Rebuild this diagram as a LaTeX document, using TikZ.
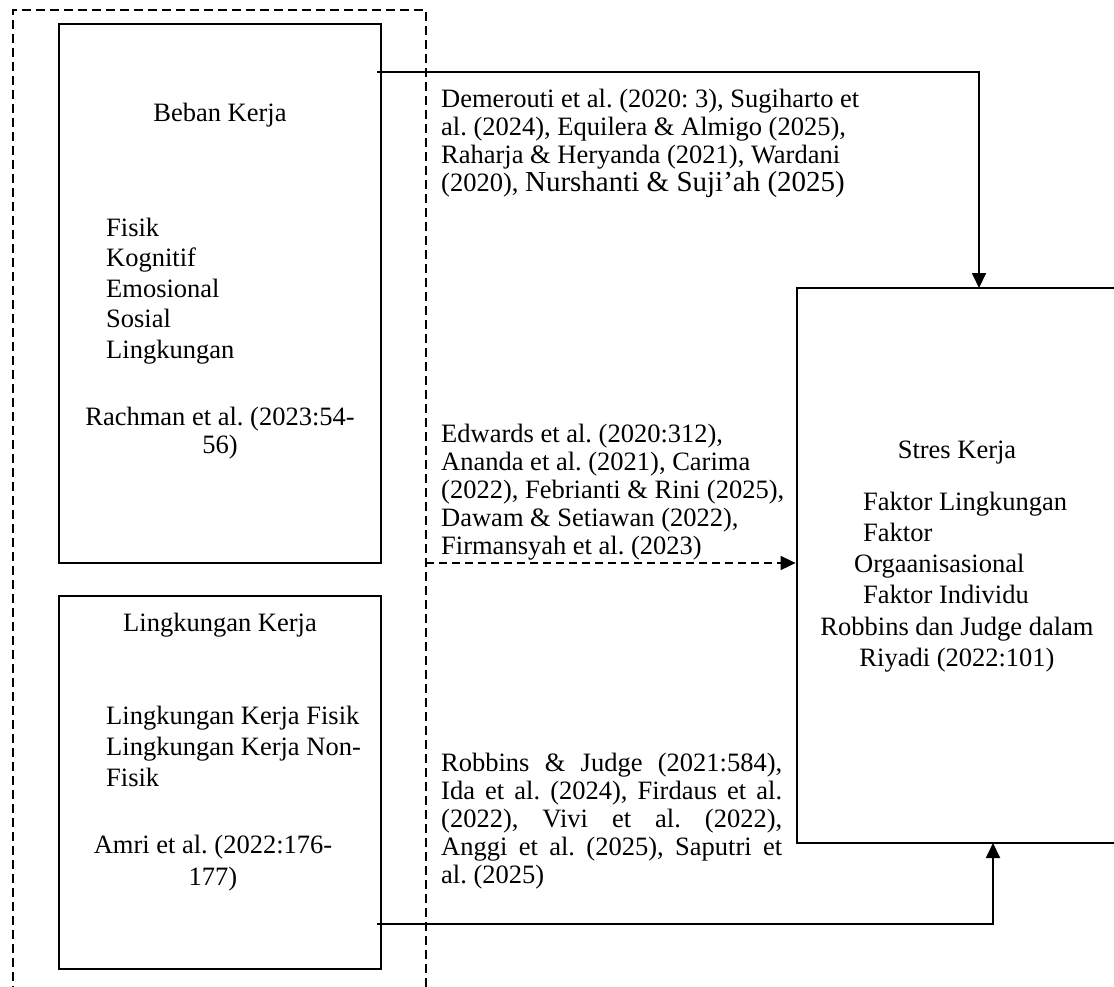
\documentclass[tikz,border=0pt]{standalone}
\usepackage{fontspec}
\setmainfont{Liberation Serif}
\usetikzlibrary{arrows.meta}
\begin{document}
\frenchspacing
\begin{tikzpicture}[x=1pt,y=-1pt,
  boxnode/.style={draw,line width=2.8pt,rectangle,inner sep=0pt},
  txt/.style={inner sep=0pt,font=\fontsize{26.5}{28}\selectfont},
  listtxt/.style={inner sep=0pt,align=left,font=\fontsize{26.5}{30.5}\selectfont},
  conn/.style={line width=1.8pt},
  arr/.style={conn,-{Triangle[length=15pt,width=14pt]}},
  dasharr/.style={line width=1.8pt,dash pattern=on 8pt off 5pt,-{Triangle[length=15pt,width=14pt]}},
  outerdash/.style={line width=1.8pt,dash pattern=on 9pt off 5pt}]
\useasboundingbox (0,0) rectangle (1114,987);
\clip (0,0) rectangle (1114,987);
\fill[white] (0,0) rectangle (1114,987);
% outer dashed frame (open at the bottom)
\draw[outerdash] (13,995) -- (13,10) -- (426,10) -- (426,995);
% boxes
\node[boxnode,minimum width=322pt,minimum height=539pt] (box1) at (220,293.5) {};
\node[boxnode,minimum width=322pt,minimum height=373pt] (box2) at (220,782.5) {};
\node[boxnode,minimum width=323pt,minimum height=555pt] (stres) at (958.5,565.5) {};
% box 1 text
\node[txt,anchor=north] (bk) at (220,103.4) {Beban Kerja};
\node[listtxt,anchor=north west] (bklist) at (106,217.5) {Fisik\\Kognitif\\Emosional\\Sosial\\Lingkungan};
\node[txt,align=center,anchor=north] (bkref) at (220,407.4) {Rachman et al. (2023:54-\\56)};
% box 2 text
\node[txt,anchor=north] (lk) at (220,613.4) {Lingkungan Kerja};
\node[listtxt,anchor=north west,font=\fontsize{26.5}{31}\selectfont] (lklist) at (106,705.5) {Lingkungan Kerja Fisik\\Lingkungan Kerja Non-\\Fisik};
\node[txt,align=center,anchor=north,font=\fontsize{26.5}{32}\selectfont] (lkref) at (213,835.4) {Amri et al. (2022:176-\\177)};
% stres box text
\node[txt,anchor=north] (sk) at (957,440.4) {Stres Kerja};
\node[txt,align=left,anchor=north west,font=\fontsize{26.5}{31}\selectfont] (sklist) at (863,492.4)
  {Faktor Lingkungan\\Faktor\\\hspace*{-9pt}Orgaanisasional\\Faktor Individu};
\node[txt,align=center,anchor=north,font=\fontsize{26.5}{31}\selectfont] (skref) at (957,617.4)
  {Robbins dan Judge dalam\\Riyadi (2022:101)};
% middle citation blocks
\node[txt,align=left,anchor=north west] (c1) at (441,89.4)
  {Demerouti et al. (2020: 3), Sugiharto et\\al. (2024), Equilera \& Almigo (2025),\\Raharja \& Heryanda (2021), Wardani\\(2020), {\fontsize{29}{28}\selectfont Nurshanti \& Suji’ah (2025)}};
\node[txt,align=left,anchor=north west] (c2) at (441,424.4)
  {Edwards et al. (2020:312),\\Ananda et al. (2021), Carima\\(2022), Febrianti \& Rini (2025),\\Dawam \& Setiawan (2022),\\Firmansyah et al. (2023)};
\node[txt,align=justify,text width=341pt,anchor=north west] (c3) at (441,753.4)
  {Robbins \& Judge (2021:584),\linebreak Ida et al. (2024), Firdaus et al.\linebreak (2022), Vivi et al. (2022),\linebreak Anggi et al. (2025), Saputri et\linebreak al. (2025)};
% connectors
\coordinate (s1) at (377,72);
\coordinate (t1) at (979,288);
\draw[arr] (s1) -| (t1);
\coordinate (s2) at (426,563);
\draw[dasharr] (s2) -- (s2 -| stres.west);
\coordinate (s3) at (377,924);
\coordinate (t3) at (993,843);
\draw[arr] (s3) -| (t3);
\end{tikzpicture}
\end{document}
